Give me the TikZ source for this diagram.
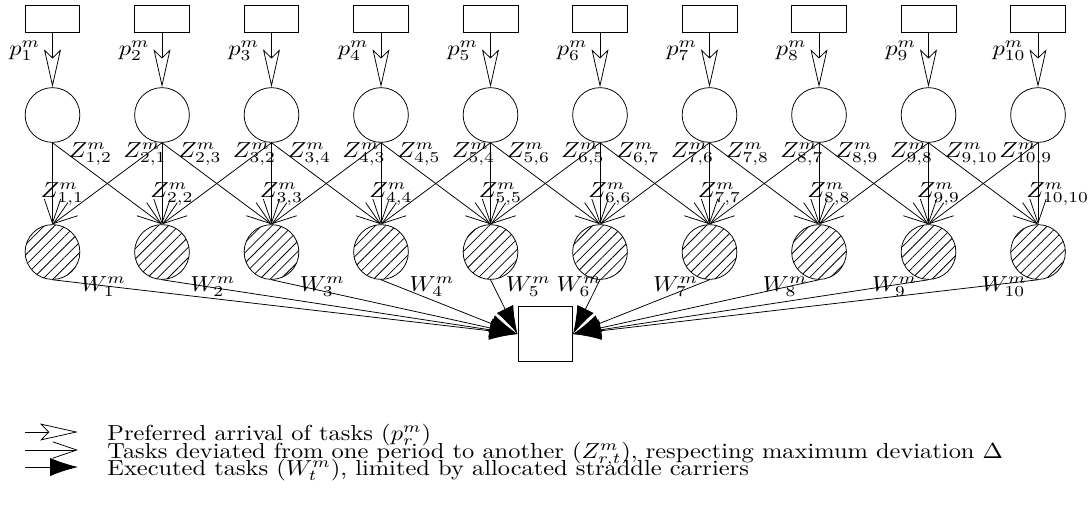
\documentclass[tikz,border=0pt]{standalone}
\usepackage{graphicx}
\usetikzlibrary{arrows.meta,patterns.meta}
\newcommand{\tx}[1]{\scalebox{1.27}[1.13]{#1}}
\tikzset{
  pbox/.style={draw, minimum width=1cm, minimum height=0.5cm, inner sep=0pt},
  period/.style={draw, circle, minimum size=1cm, inner sep=0pt},
  exec/.style={draw, circle, minimum size=1cm, inner sep=0pt, pattern={Lines[angle=45,distance=3.8pt,line width=0.4pt]}},
  sink/.style={draw, minimum size=1cm, inner sep=0pt},
  lab/.style={inner sep=0pt},
  parr/.style={-{Stealth[open,length=19.7pt,width=8.8pt,inset=4.2pt]}},
  zarr/.style={-{Straight Barb[length=12.5pt,width=8.5pt]}},
  warr/.style={-{Latex[length=14.5pt,width=9.5pt]}}
}
\begin{document}
\begin{tikzpicture}[x=0.018265cm,y=-0.018265cm]
\useasboundingbox (0,0) rectangle (1089,508);
\node[sink] (s) at (545.25,334) {};
\foreach \i in {1,...,10}{
  \pgfmathsetmacro\x{52.5+109.5*(\i-1)}
  \node[pbox] (r\i) at (\x,19) {};
  \node[period] (c\i) at (\x,115) {};
  \node[exec] (h\i) at (\x,252) {};
}
\foreach \i in {1,...,10}{
  \pgfmathsetmacro\x{52.5+109.5*(\i-1)}
  \draw[parr] (r\i.south) -- (c\i.north);
  \node[lab, anchor=base east] (pl\i) at (\x-12,55) {\tx{$p^m_{\i}$}};
  \draw[zarr] (c\i.south) -- (h\i.north);
  \node[lab, anchor=base west] (zl\i) at (\x-12,197) {\tx{$Z^m_{\i,\i}$}};
}
\foreach \i in {1,...,9}{
  \pgfmathsetmacro\x{52.5+109.5*(\i-1)}
  \pgfmathtruncatemacro\n{\i+1}
  \draw[zarr] (c\i.south) -- (h\n.north);
  \node[lab, anchor=base west] (zr\i) at (\x+16,157) {\tx{$Z^m_{\i,\n}$}};
}
\foreach \i in {2,...,10}{
  \pgfmathsetmacro\x{52.5+109.5*(\i-1)}
  \pgfmathtruncatemacro\n{\i-1}
  \draw[zarr] (c\i.south) -- (h\n.north);
  \node[lab, anchor=base west] (zq\i) at (\x-39,157) {\tx{$Z^m_{\i,\n}$}};
}
\foreach \i in {1,...,5}{
  \draw[warr] (h\i.south) -- (s.west);
}
\foreach \i in {6,...,10}{
  \draw[warr] (h\i.south) -- (s.east);
}
\foreach \i in {1,...,4}{
  \pgfmathsetmacro\x{52.5+109.5*(\i-1)}
  \node[lab, anchor=base west] (wl\i) at (\x+28,291) {\tx{$W^m_{\i}$}};
}
\node[lab, anchor=base west] (wl5) at (490.5+15,291) {\tx{$W^m_{5}$}};
\node[lab, anchor=base east] (wl6) at (600+2,291) {\tx{$W^m_{6}$}};
\foreach \i in {7,...,10}{
  \pgfmathsetmacro\x{52.5+109.5*(\i-1)}
  \node[lab, anchor=base east] (wl\i) at (\x-11,291) {\tx{$W^m_{\i}$}};
}
% legend
\coordinate (a1) at (25,432); \coordinate (b1) at (78,432);
\coordinate (a2) at (25,450); \coordinate (b2) at (78,450);
\coordinate (a3) at (25,467); \coordinate (b3) at (78,467);
\draw[parr] (a1) -- (b1);
\draw[zarr] (a2) -- (b2);
\draw[warr] (a3) -- (b3);
\node[lab, anchor=base west] (t1) at (107,440) {\tx{Preferred arrival of tasks ($p^m_r$)}};
\node[lab, anchor=base west] (t2) at (107,458) {\tx{Tasks deviated from one period to another ($Z^m_{r,t}$), respecting maximum deviation $\Delta$}};
\node[lab, anchor=base west] (t3) at (107,475) {\tx{Executed tasks ($W^m_t$), limited by allocated straddle carriers}};
\end{tikzpicture}
\end{document}
